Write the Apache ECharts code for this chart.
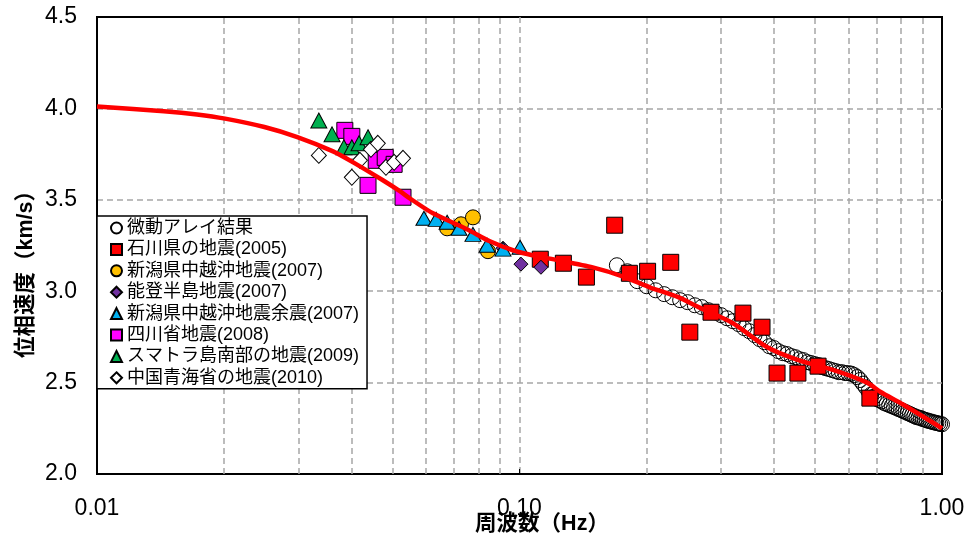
<!DOCTYPE html>
<html>
<head>
<meta charset="utf-8">
<script src="https://cdn.jsdelivr.net/npm/echarts@6/dist/echarts.min.js"></script>
<style>
  html, body { margin: 0; padding: 0; background: #fff; }
  #chart { width: 967px; height: 541px; }
</style>
</head>
<body>
<div id="chart"></div>
<script>
// Dispersion curve (phase velocity vs frequency), model curve
const curveFreq = [0.01, 0.0144, 0.01725, 0.0201, 0.0249, 0.0298, 0.0362, 0.0404, 0.0475, 0.0522, 0.055, 0.0624, 0.0751, 0.0851, 0.0965, 0.108, 0.123, 0.149, 0.176, 0.204, 0.236, 0.267, 0.320, 0.385, 0.461, 0.552, 0.665, 0.714, 0.809, 1.0];
const curveVel  = [4.011, 3.985, 3.967, 3.944, 3.898, 3.843, 3.765, 3.705, 3.607, 3.546, 3.508, 3.426, 3.339, 3.273, 3.224, 3.195, 3.17, 3.13, 3.08, 3.02, 2.97, 2.91, 2.825, 2.695, 2.62, 2.57, 2.50, 2.45, 2.38, 2.25];

// 微動アレイ結果
const arrayFreq = [0.17, 0.18, 0.19, 0.20, 0.21, 0.22, 0.23, 0.24, 0.25, 0.26, 0.27, 0.28, 0.29, 0.30, 0.31, 0.32, 0.33, 0.34, 0.35, 0.36, 0.37, 0.38, 0.39, 0.40, 0.41, 0.42, 0.43, 0.44, 0.45, 0.46, 0.47, 0.48, 0.49, 0.50, 0.51, 0.52, 0.53, 0.54, 0.55, 0.56, 0.57, 0.58, 0.59, 0.60, 0.61, 0.62, 0.63, 0.64, 0.65, 0.66, 0.67, 0.68, 0.69, 0.70, 0.71, 0.72, 0.73, 0.74, 0.75, 0.76, 0.77, 0.78, 0.79, 0.80, 0.81, 0.82, 0.83, 0.84, 0.85, 0.86, 0.87, 0.88, 0.89, 0.90, 0.91, 0.92, 0.93, 0.94, 0.95, 0.96, 0.97, 0.98, 0.99, 1.00];
const arrayVel  = [3.142, 3.109, 3.055, 3.027, 3.005, 2.984, 2.967, 2.951, 2.940, 2.923, 2.913, 2.896, 2.885, 2.869, 2.852, 2.836, 2.820, 2.798, 2.781, 2.760, 2.738, 2.721, 2.699, 2.689, 2.672, 2.661, 2.656, 2.645, 2.639, 2.628, 2.623, 2.612, 2.607, 2.601, 2.596, 2.585, 2.579, 2.574, 2.568, 2.563, 2.557, 2.557, 2.552, 2.552, 2.549, 2.541, 2.530, 2.514, 2.494, 2.474, 2.452, 2.435, 2.423, 2.412, 2.404, 2.397, 2.388, 2.383, 2.377, 2.372, 2.366, 2.361, 2.355, 2.350, 2.344, 2.339, 2.333, 2.328, 2.322, 2.317, 2.311, 2.309, 2.306, 2.301, 2.297, 2.294, 2.290, 2.288, 2.284, 2.282, 2.279, 2.277, 2.274, 2.272];

// 石川県の地震(2005)
const ishikawaFreq = [0.112, 0.127, 0.144, 0.168, 0.182, 0.201, 0.228, 0.253, 0.284, 0.338, 0.375, 0.407, 0.456, 0.509, 0.675];
const ishikawaVel  = [3.175, 3.153, 3.077, 3.361, 3.098, 3.109, 3.158, 2.776, 2.885, 2.880, 2.803, 2.552, 2.552, 2.590, 2.415];

// 新潟県中越沖地震(2007)
const chuetsuFreq = [0.0674, 0.0727, 0.0776, 0.0842];
const chuetsuVel  = [3.344, 3.366, 3.404, 3.219];

// 能登半島地震(2007)
const notoFreq = [0.0914, 0.1008, 0.1124];
const notoVel  = [3.235, 3.148, 3.131];

// 新潟県中越沖地震余震(2007)
const aftershockFreq = [0.0594, 0.0635, 0.0674, 0.0719, 0.0776, 0.0838, 0.0914, 0.1003];
const aftershockVel  = [3.399, 3.393, 3.377, 3.344, 3.311, 3.251, 3.230, 3.240];

// 四川省地震(2008)
const sichuanFreq = [0.0386, 0.0401, 0.0458, 0.0481, 0.0505, 0.0438, 0.0530];
const sichuanVel  = [3.880, 3.847, 3.716, 3.732, 3.694, 3.579, 3.514];

// スマトラ島南部の地震(2009)
const sumatraFreq = [0.0335, 0.0360, 0.0384, 0.0401, 0.0417, 0.0438];
const sumatraVel  = [3.934, 3.858, 3.787, 3.787, 3.809, 3.842];

// 中国青海省の地震(2010)
const qinghaiFreq = [0.0335, 0.0401, 0.0419, 0.0445, 0.0462, 0.0483, 0.0505, 0.0530];
const qinghaiVel  = [3.743, 3.623, 3.716, 3.776, 3.809, 3.678, 3.705, 3.727];

// Minor vertical grid positions on the log frequency axis
const minorGrid = [0.02, 0.03, 0.04, 0.05, 0.06, 0.07, 0.08, 0.09, 0.2, 0.3, 0.4, 0.5, 0.6, 0.7, 0.8, 0.9];

const pairs = (xs, ys) => xs.map((x, i) => [x, ys[i]]);
const FONT = '"Liberation Sans", Arial, "Noto Sans CJK JP", sans-serif';
const gridLineStyle = { type: [6, 4], color: '#a6a6a6', width: 1.5 };

function scatter(name, xs, ys, symbol, size, fill) {
  return {
    name: name,
    type: 'scatter',
    data: pairs(xs, ys),
    symbol: symbol,
    symbolSize: size,
    itemStyle: { color: fill, borderColor: '#000', borderWidth: 1, opacity: 1 },
    emphasis: { disabled: true }
  };
}

const chart = echarts.init(document.getElementById('chart'), null, { renderer: 'canvas' });

chart.setOption({
  animation: false,
  backgroundColor: '#fff',
  textStyle: { fontFamily: FONT },
  grid: {
    left: 97, right: 25, top: 17, bottom: 67,
    outerBoundsMode: 'none',
    containLabel: false,
    show: true, borderColor: '#000', borderWidth: 2, backgroundColor: '#fff'
  },
  xAxis: {
    type: 'log',
    logBase: 10,
    min: 0.01,
    max: 1,
    name: '周波数（Hz）',
    nameLocation: 'middle',
    nameGap: 39,
    nameMoveOverlap: false,
    nameTextStyle: { fontFamily: FONT, fontSize: 21.5, fontWeight: 'bold', color: '#000', padding: [0, 0, 0, 45] },
    axisLine: { show: true, lineStyle: { color: '#000', width: 2 } },
    axisTick: { show: true, inside: true, length: 5, lineStyle: { color: '#000' } },
    axisLabel: {
      fontFamily: FONT, fontSize: 23, color: '#000', margin: 23,
      formatter: v => Number(v).toFixed(2)
    },
    splitLine: { show: true, showMinLine: false, showMaxLine: false, lineStyle: gridLineStyle }
  },
  yAxis: {
    type: 'value',
    min: 2.0,
    max: 4.5,
    interval: 0.5,
    name: '位相速度（km/s）',
    nameLocation: 'middle',
    nameRotate: 90,
    nameGap: 60,
    nameMoveOverlap: false,
    nameTextStyle: { fontFamily: FONT, fontSize: 21.5, fontWeight: 'bold', color: '#000', padding: [0, 47, 0, 0] },
    axisLine: { show: true, lineStyle: { color: '#000', width: 2 } },
    axisTick: { show: false },
    axisLabel: {
      fontFamily: FONT, fontSize: 23, color: '#000', margin: 20,
      formatter: v => Number(v).toFixed(1)
    },
    splitLine: { show: true, showMinLine: false, showMaxLine: false, lineStyle: gridLineStyle }
  },
  legend: {
    orient: 'vertical',
    left: 97,
    top: 216,
    padding: [3, 8, 2, 13],
    itemGap: 3.4,
    itemWidth: 11,
    itemHeight: 11,
    backgroundColor: '#fff',
    borderColor: '#000',
    borderWidth: 1.5,
    borderRadius: 0,
    selectedMode: false,
    textStyle: { fontFamily: FONT, fontSize: 18, lineHeight: 18, color: '#000' },
    data: ['微動アレイ結果', '石川県の地震(2005)', '新潟県中越沖地震(2007)', '能登半島地震(2007)',
           '新潟県中越沖地震余震(2007)', '四川省地震(2008)', 'スマトラ島南部の地震(2009)', '中国青海省の地震(2010)']
  },
  series: [
    {
      name: 'model',
      type: 'line',
      data: pairs(curveFreq, curveVel),
      smooth: 0.25,
      symbol: 'none',
      lineStyle: { color: '#ff0000', width: 4.5 },
      emphasis: { disabled: true },
      markLine: {
        silent: true,
        z: 1,
        symbol: ['none', 'none'],
        label: { show: false },
        lineStyle: gridLineStyle,
        emphasis: { disabled: true },
        data: minorGrid.map(v => ({ xAxis: v }))
      }
    },
    scatter('微動アレイ結果', arrayFreq, arrayVel, 'circle', 15, 'rgba(255,255,255,0)'),
    scatter('石川県の地震(2005)', ishikawaFreq, ishikawaVel, 'rect', 16, '#ff0000'),
    scatter('新潟県中越沖地震(2007)', chuetsuFreq, chuetsuVel, 'circle', 15, '#ffc000'),
    scatter('能登半島地震(2007)', notoFreq, notoVel, 'diamond', 14, '#7030a0'),
    scatter('新潟県中越沖地震余震(2007)', aftershockFreq, aftershockVel, 'triangle', [16, 14], '#00b0f0'),
    scatter('四川省地震(2008)', sichuanFreq, sichuanVel, 'rect', 16, '#ff00ff'),
    scatter('スマトラ島南部の地震(2009)', sumatraFreq, sumatraVel, 'triangle', [16, 15], '#00b050'),
    scatter('中国青海省の地震(2010)', qinghaiFreq, qinghaiVel, 'diamond', [15, 16], '#ffffff')
  ]
});
</script>
</body>
</html>
